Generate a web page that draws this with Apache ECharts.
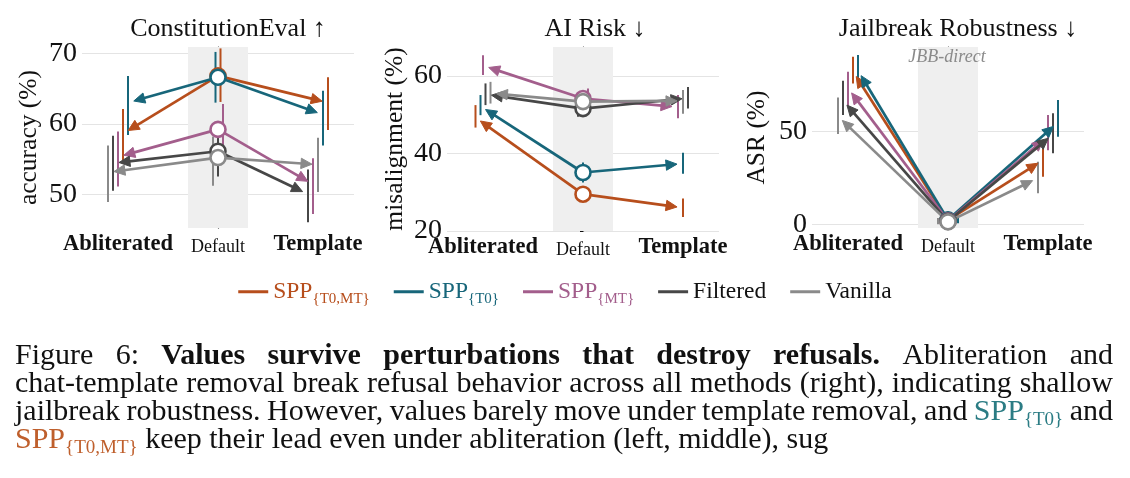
<!DOCTYPE html>
<html>
<head>
<meta charset="utf-8">
<script src="https://cdn.jsdelivr.net/npm/echarts@6/dist/echarts.min.js"></script>
<style>
  html, body { margin: 0; background: #fff; }
  #chart { width: 1130px; height: 478px; }
</style>
</head>
<body>
<div id="chart"></div>
<script>
// ---- data ----
const conditions = ['Abliterated', 'Default', 'Template'];
const methods = ['SPP{T0,MT}', 'SPP{T0}', 'SPP{MT}', 'Filtered', 'Vanilla'];
const panelTitles = ['ConstitutionEval ↑', 'AI Risk ↓', 'Jailbreak Robustness ↓'];
const yNames = ['accuracy (%)', 'misalignment (%)', 'ASR (%)'];
const yTicks = [[50, 60, 70], [20, 40, 60], [0, 50]];

// rows follow methods, columns follow conditions
const ceMean = [[58.6, 66.8, 63.0], [63.0, 66.6, 61.3], [55.3, 59.2, 51.4], [54.4, 56.1, 50.0], [53.1, 55.2, 54.2]];
const ceLow  = [[54.3, 63.1, 59.1], [58.4, 63.0, 56.9], [51.1, 55.5, 47.2], [50.5, 52.5, 46.0], [48.9, 51.2, 50.3]];
const ceHigh = [[62.1, 70.7, 66.6], [66.8, 70.2, 64.7], [58.9, 62.8, 55.1], [58.3, 59.7, 53.5], [56.9, 58.2, 58.0]];

const riskMean = [[49.3, 29.5, 26.0], [52.2, 35.1, 37.4], [62.7, 54.2, 52.0], [55.3, 51.6, 54.3], [55.6, 53.4, 53.6]];
const riskLow  = [[46.7, 27.6, 23.6], [49.9, 32.5, 34.8], [60.3, 51.6, 49.1], [52.5, 49.5, 51.6], [52.9, 50.9, 50.3]];
const riskHigh = [[52.5, 31.4, 28.4], [55.1, 37.7, 40.2], [65.4, 56.8, 55.1], [58.1, 53.7, 57.2], [58.5, 55.9, 56.4]];

const asrMean = [[82.5, 2.2, 34.7], [83.0, 2.4, 55.0], [73.5, 1.9, 47.5], [66.8, 1.6, 48.5], [58.3, 1.3, 25.0]];
const asrLow  = [[76.0, 0.3, 25.7], [77.0, 0.5, 47.3], [63.5, 0.2, 40.0], [59.0, 0.0, 38.3], [48.7, 0.0, 16.7]];
const asrHigh = [[90.5, 4.6, 43.7], [91.4, 4.8, 67.1], [82.4, 4.2, 59.0], [77.5, 3.8, 59.9], [68.5, 3.4, 33.8]];

// caption lines: [text, style]
const caption = [
  [['Figure 6: ', 'n'], ['Values survive perturbations that destroy refusals.', 'b'], [' Abliteration and', 'n']],
  [['chat-template removal break refusal behavior across all methods (right), indicating shallow', 'n']],
  [['jailbreak robustness. However, values barely move under template removal, and ', 'n'], ['SPP', 't'], ['{T0}', 'ts'], [' and', 'n']],
  [['SPP', 'o'], ['{T0,MT}', 'os'], [' keep their lead even under abliteration (left, middle), sug', 'n']]
];

// ---- styles / layout ----
const SERIF = 'Liberation Serif';
const colors = ['#b74e1c', '#17667a', '#a35e8c', '#474747', '#8a8a8a'];
const DODGE = 0.05;    // spacing of overlapping error bars, x units
const BAND = 0.3;      // half width of grey Default band
const SHRINK = 6, HEAD_LEN = 11, HEAD_HW = 5.2;

const panels = [
  { mean: ceMean, low: ceLow, high: ceHigh, yMin: 45.2, yMax: 70.9,
    grid: { left: 82, top: 47, width: 272, height: 181 }, nameGap: 40, titleX: 228 },
  { mean: riskMean, low: riskLow, high: riskHigh, yMin: 20, yMax: 67.5,
    grid: { left: 447, top: 47, width: 272, height: 184 }, nameGap: 39, titleX: 595 },
  { mean: asrMean, low: asrLow, high: asrHigh, yMin: -2, yMax: 95.7,
    grid: { left: 812, top: 47, width: 272, height: 181 }, nameGap: 42, titleX: 958 }
];

// bars whose intervals overlap are spread sideways, sorted by mean
function dodge(mean, low, high, col) {
  const order = methods.map((_, i) => i).sort((a, b) => mean[a][col] - mean[b][col]);
  const groups = [];
  let cur = [], top = -Infinity;
  order.forEach(i => {
    if (cur.length && low[i][col] > top) { groups.push(cur); cur = []; top = -Infinity; }
    cur.push(i);
    top = Math.max(top, high[i][col]);
  });
  groups.push(cur);
  const off = [];
  groups.forEach(g => g.forEach((i, k) => { off[i] = (k - (g.length - 1) / 2) * DODGE; }));
  return off;
}

function renderArrow(params, api) {
  const p0 = api.coord([api.value(0), api.value(1)]);
  const p1 = api.coord([api.value(2), api.value(3)]);
  const dx = p1[0] - p0[0], dy = p1[1] - p0[1];
  const len = Math.sqrt(dx * dx + dy * dy);
  const ux = dx / len, uy = dy / len;
  const tip = [p1[0] - ux * SHRINK, p1[1] - uy * SHRINK];
  const base = [tip[0] - ux * HEAD_LEN, tip[1] - uy * HEAD_LEN];
  const color = api.visual('color');
  return {
    type: 'group',
    children: [
      { type: 'line', shape: { x1: p0[0], y1: p0[1], x2: base[0] + ux, y2: base[1] + uy },
        style: { stroke: color, lineWidth: 2.7 } },
      { type: 'polygon',
        shape: { points: [tip, [base[0] - uy * HEAD_HW, base[1] + ux * HEAD_HW], [base[0] + uy * HEAD_HW, base[1] - ux * HEAD_HW]] },
        style: { fill: color, stroke: color, lineWidth: 1, lineJoin: 'round' } }
    ]
  };
}

function renderBar(params, api) {
  const a = api.coord([api.value(0), api.value(1)]);
  const b = api.coord([api.value(0), api.value(2)]);
  return { type: 'line', shape: { x1: a[0], y1: a[1], x2: b[0], y2: b[1] },
    style: { stroke: api.visual('color'), lineWidth: 2 } };
}

function renderBand(params, api) {
  const cs = params.coordSys;
  const x0 = api.coord([-BAND, 0])[0], x1 = api.coord([BAND, 0])[0];
  return { type: 'rect', shape: { x: x0, y: cs.y, width: x1 - x0, height: cs.height },
    style: { fill: '#efefef' } };
}

const grids = [], xAxes = [], yAxes = [], series = [], titles = [];
const catX = conditions.map((_, i) => i - 1);

panels.forEach((p, g) => {
  grids.push(p.grid);
  xAxes.push({
    gridIndex: g, type: 'value', min: -1.36, max: 1.36,
    axisLine: { show: false }, axisTick: { show: false }, splitLine: { show: false },
    axisLabel: {
      customValues: catX, margin: 2,
      formatter: v => {
        const name = conditions[Math.round(v) + 1];
        return name === 'Default' ? '{d|' + name + '}' : '{c|' + name + '}';
      },
      rich: {
        c: { fontFamily: SERIF, fontWeight: 'bold', fontSize: 22.5, color: '#111', lineHeight: 26, verticalAlign: 'bottom' },
        d: { fontFamily: SERIF, fontSize: 18, color: '#111', lineHeight: 26, verticalAlign: 'bottom' }
      }
    }
  });
  yAxes.push({
    gridIndex: g, type: 'value', min: p.yMin, max: p.yMax,
    name: yNames[g], nameLocation: 'middle', nameGap: p.nameGap,
    nameTextStyle: { fontFamily: SERIF, fontSize: 25.5, color: '#111' },
    axisLine: { show: true, lineStyle: { color: '#111', width: 1.2 } },
    axisTick: { show: true, length: 3, customValues: yTicks[g], lineStyle: { color: '#111' } },
    axisLabel: { customValues: yTicks[g], fontFamily: SERIF, fontSize: 28, color: '#111', margin: 5 },
    splitLine: { show: true, lineStyle: { color: '#e4e4e4', width: 1 } }
  });
  titles.push({
    text: panelTitles[g], left: p.titleX, top: 16, textAlign: 'center', padding: 0,
    textStyle: { fontFamily: SERIF, fontSize: 26, fontWeight: 'normal', color: '#111' }
  });

  series.push({ type: 'custom', name: 'band', xAxisIndex: g, yAxisIndex: g, z: 1, silent: true,
    renderItem: renderBand, data: [[0]] });

  const offs = catX.map((_, c) => dodge(p.mean, p.low, p.high, c));
  methods.forEach((m, i) => {
    const dflt = [catX[1], p.mean[i][1]];
    series.push({
      type: 'custom', name: m, xAxisIndex: g, yAxisIndex: g, z: 3, silent: true,
      itemStyle: { color: colors[i] }, renderItem: renderArrow,
      data: [0, 2].map(c => [dflt[0], dflt[1], catX[c] + offs[c][i], p.mean[i][c]])
    });
    series.push({
      type: 'custom', name: m, xAxisIndex: g, yAxisIndex: g, z: 2, silent: true,
      itemStyle: { color: colors[i] }, renderItem: renderBar,
      data: catX.map((x, c) => [x + offs[c][i], p.low[i][c], p.high[i][c]])
    });
  });
  methods.forEach((m, i) => {
    series.push({
      type: 'scatter', name: m, xAxisIndex: g, yAxisIndex: g, z: 4, silent: true,
      symbol: 'circle', symbolSize: 15,
      itemStyle: { color: '#fff', borderColor: colors[i], borderWidth: 2.6, opacity: 1 },
      data: [[catX[1], p.mean[i][1]]]
    });
  });
});

// legend: large main text (rich), plain part is the subscript
const legendRich = {};
methods.forEach((m, i) => {
  legendRich['m' + i] = { fontFamily: SERIF, fontSize: 23.5, color: i < 3 ? colors[i] : '#111',
    verticalAlign: 'top', lineHeight: 38 };
});

// ---- caption, justified by measuring words ----
const measureCtx = document.createElement('canvas').getContext('2d');
const capStyles = {
  n:  { size: 30, weight: 'normal', color: '#111', dy: 0 },
  b:  { size: 30, weight: 'bold', color: '#111', dy: 0 },
  t:  { size: 30, weight: 'normal', color: '#2b7c84', dy: 0 },
  ts: { size: 19, weight: 'normal', color: '#2b7c84', dy: 8 },
  o:  { size: 30, weight: 'normal', color: '#bf5f2c', dy: 0 },
  os: { size: 19, weight: 'normal', color: '#bf5f2c', dy: 8 }
};
function textWidth(str, st) {
  measureCtx.font = st.weight + ' ' + st.size + 'px "' + SERIF + '"';
  return measureCtx.measureText(str).width;
}
const CAP_LEFT = 15, CAP_RIGHT = 1113, CAP_Y0 = 356, CAP_STEP = 28;
const captionGraphics = [];
caption.forEach((line, li) => {
  const words = [[]];
  line.forEach(([text, s]) => {
    text.split(' ').forEach((part, k) => {
      if (k > 0 && words[words.length - 1].length) words.push([]);
      if (part) words[words.length - 1].push([part, s]);
    });
  });
  if (!words[words.length - 1].length) words.pop();
  const widths = words.map(w => w.reduce((a, [t, s]) => a + textWidth(t, capStyles[s]), 0));
  const total = widths.reduce((a, b) => a + b, 0);
  const justify = li < caption.length - 1;
  const gap = justify ? (CAP_RIGHT - CAP_LEFT - total) / (words.length - 1) : textWidth(' ', capStyles.n);
  let x = CAP_LEFT;
  const y = CAP_Y0 + li * CAP_STEP;
  words.forEach(w => {
    w.forEach(([t, s]) => {
      const st = capStyles[s];
      captionGraphics.push({
        type: 'text', x: x, y: y + st.dy, silent: true,
        style: { text: t, fontFamily: SERIF, fontSize: st.size, fontWeight: st.weight, fill: st.color,
          align: 'left', verticalAlign: 'middle' }
      });
      x += textWidth(t, st);
    });
    x += gap;
  });
});

const chart = echarts.init(document.getElementById('chart'), null, { renderer: 'canvas' });
chart.setOption({
  backgroundColor: '#fff',
  animation: false,
  title: titles,
  grid: grids,
  xAxis: xAxes,
  yAxis: yAxes,
  legend: {
    left: 'center', top: 280, padding: 0, itemGap: 24, itemWidth: 30, itemHeight: 17.5,
    icon: 'path://M0,0H30V3H0Z M0,17.5H0.01V17.51H0Z',
    selectedMode: false,
    data: methods.map((m, i) => ({ name: m, textStyle: { color: i < 3 ? colors[i] : '#111', fontSize: 15, fontFamily: SERIF } })),
    textStyle: { fontFamily: SERIF, fontSize: 15, rich: legendRich },
    formatter: name => {
      const i = methods.indexOf(name), k = name.indexOf('{');
      return k < 0 ? '{m' + i + '|' + name + '}' : '{m' + i + '|' + name.slice(0, k) + '}' + name.slice(k);
    }
  },
  graphic: [
    { type: 'text', x: 947, y: 57, z: 100, silent: true,
      style: { text: 'JBB-direct', fontFamily: SERIF, fontStyle: 'italic', fontSize: 18, fill: '#8a8a8a',
        align: 'center', verticalAlign: 'middle' } }
  ].concat(captionGraphics),
  series: series
});
</script>
</body>
</html>
